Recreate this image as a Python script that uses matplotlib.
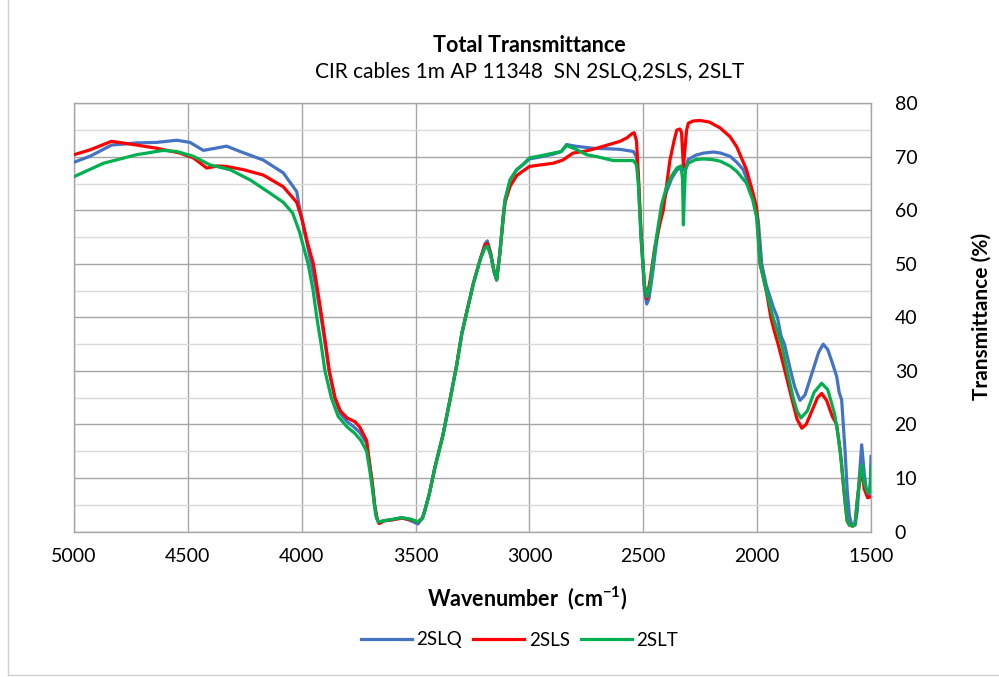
import matplotlib
matplotlib.use("Agg")
import matplotlib.pyplot as plt
from matplotlib.lines import Line2D
from matplotlib.ticker import MultipleLocator

plt.rcParams['font.family'] = ['Lato', 'DejaVu Sans']

# ---- data ----
wn_2slq = [5000, 4930, 4835, 4725, 4637, 4549, 4491, 4432, 4380, 4330, 4271, 4169, 4081, 4022,
           4012, 3990, 3958, 3935, 3915, 3897, 3880, 3855, 3830, 3800, 3770, 3745, 3715, 3700,
           3690, 3680, 3670, 3660, 3640, 3600, 3560, 3520, 3490, 3470, 3459, 3440, 3415, 3380,
           3349, 3320, 3297, 3270, 3246, 3215, 3195, 3185, 3170, 3155, 3144, 3130, 3115, 3107,
           3085, 3056, 3030, 3000, 2950, 2895, 2860, 2837, 2800, 2721, 2650, 2602, 2544, 2530,
           2522, 2510, 2495, 2485, 2475, 2460, 2442, 2420, 2398, 2375, 2353, 2335, 2325, 2315,
           2303, 2270, 2236, 2192, 2160, 2119, 2090, 2061, 2030, 2003, 1995, 1980, 1960, 1944,
           1930, 1911, 1895, 1880, 1853, 1835, 1812, 1790, 1760, 1730, 1710, 1690, 1670, 1651,
           1640, 1629, 1614, 1605, 1595, 1585, 1570, 1560, 1550, 1541, 1530, 1518, 1510, 1503,
           1500]
t_2slq = [69.0, 70.1, 72.2, 72.6, 72.7, 73.1, 72.7, 71.2, 71.6, 72.0, 71.0, 69.4, 67.0, 63.5,
          61.0, 56.5, 50.0, 45.0, 40.0, 35.0, 30.0, 25.0, 22.0, 20.5, 19.5, 18.5, 16.5, 12.0,
          9.0, 5.0, 2.5, 1.5, 2.0, 2.2, 2.6, 2.0, 1.4, 2.5, 4.0, 7.0, 12.0, 18.0,
          24.6, 31.0, 37.0, 42.0, 46.4, 51.0, 53.8, 54.3, 52.0, 48.5, 47.0, 52.0, 59.0, 62.0,
          65.7, 67.6, 68.5, 69.6, 70.0, 70.5, 71.0, 72.3, 72.0, 71.6, 71.5, 71.4, 71.0, 70.0,
          66.0, 55.0, 45.0, 42.5, 43.5, 48.0, 54.0, 60.0, 63.5, 66.0, 67.5, 68.0, 67.5, 68.0,
          69.5, 70.3, 70.7, 70.9, 70.7, 70.1, 69.0, 67.6, 64.0, 60.1, 58.0, 50.0, 46.0, 43.9,
          42.0, 40.0, 36.5, 35.0, 30.0, 27.0, 24.5, 25.5, 29.5, 33.5, 35.0, 34.0, 31.5, 29.0,
          26.0, 24.6, 15.0, 8.0, 3.0, 1.3, 1.2, 4.0, 11.0, 16.2, 11.0, 7.0, 6.5, 9.0,
          14.0]

wn_2sls = [5000, 4930, 4835, 4725, 4637, 4535, 4476, 4417, 4370, 4330, 4256, 4169, 4081, 4022,
           4000, 3975, 3949, 3930, 3912, 3895, 3879, 3854, 3830, 3800, 3766, 3745, 3715, 3700,
           3693, 3680, 3670, 3660, 3640, 3600, 3560, 3520, 3490, 3470, 3459, 3440, 3415, 3380,
           3349, 3320, 3297, 3270, 3246, 3215, 3195, 3185, 3170, 3155, 3144, 3130, 3115, 3107,
           3085, 3056, 3030, 3000, 2950, 2896, 2853, 2809, 2750, 2705, 2650, 2602, 2570, 2551,
           2540, 2530, 2522, 2510, 2495, 2485, 2470, 2450, 2430, 2412, 2383, 2365, 2353, 2339,
           2332, 2324, 2318, 2310, 2302, 2280, 2251, 2210, 2163, 2120, 2090, 2047, 2020, 2003,
           1987, 1960, 1940, 1925, 1908, 1878, 1849, 1825, 1804, 1785, 1760, 1735, 1717, 1695,
           1670, 1651, 1635, 1620, 1605, 1595, 1580, 1570, 1560, 1548, 1541, 1530, 1515, 1500]
t_2sls = [70.4, 71.3, 72.9, 72.2, 71.6, 70.7, 69.8, 67.9, 68.3, 68.2, 67.6, 66.6, 64.4, 61.5,
          58.5, 54.0, 50.0, 45.0, 40.0, 35.0, 30.0, 25.0, 22.5, 21.2, 20.5, 19.5, 17.0, 12.0,
          10.0, 5.0, 2.5, 1.5, 2.0, 2.2, 2.5, 2.2, 1.8, 2.5, 4.0, 7.0, 12.0, 18.0,
          24.6, 31.0, 37.0, 42.0, 46.4, 51.0, 53.5, 53.8, 51.8, 48.5, 47.0, 52.0, 58.5, 61.5,
          64.5, 66.5, 67.3, 68.2, 68.5, 68.8, 69.4, 70.7, 71.1, 71.6, 72.3, 72.9, 73.6, 74.3,
          74.5, 73.0, 67.0, 56.0, 46.0, 43.5, 47.0, 53.0, 57.0, 60.1, 69.4, 73.0, 75.0, 75.2,
          74.5, 68.2, 71.0, 75.0, 76.3, 76.7, 76.8, 76.5, 75.4, 73.8, 71.9, 67.6, 63.5, 60.7,
          50.0, 45.0, 40.0, 37.5, 35.0, 30.0, 25.0, 21.0, 19.3, 20.0, 22.5, 25.0, 25.8, 24.5,
          21.5, 20.0, 15.0, 8.0, 2.0, 1.2, 1.0, 1.5, 6.0, 10.0, 11.5, 8.0, 6.3, 6.5]

wn_2slt = [5000, 4871, 4725, 4608, 4549, 4476, 4403, 4315, 4227, 4139, 4081, 4040, 4010, 3972,
           3950, 3934, 3915, 3898, 3870, 3840, 3802, 3766, 3740, 3715, 3700, 3690, 3675, 3665,
           3640, 3600, 3560, 3520, 3490, 3470, 3459, 3440, 3415, 3380, 3349, 3320, 3297, 3270,
           3246, 3215, 3195, 3185, 3170, 3155, 3144, 3130, 3115, 3107, 3085, 3056, 3030, 3000,
           2950, 2895, 2860, 2837, 2800, 2749, 2700, 2632, 2580, 2544, 2530, 2522, 2510, 2495,
           2485, 2470, 2455, 2442, 2420, 2398, 2375, 2353, 2335, 2328, 2324, 2320, 2315, 2303,
           2270, 2236, 2200, 2163, 2120, 2090, 2047, 2020, 2003, 1987, 1960, 1930, 1893, 1868,
           1842, 1825, 1808, 1780, 1750, 1717, 1690, 1660, 1645, 1630, 1615, 1605, 1595, 1580,
           1570, 1560, 1550, 1541, 1530, 1515, 1505, 1500]
t_2slt = [66.3, 68.8, 70.4, 71.2, 71.0, 70.1, 68.5, 67.6, 65.7, 63.2, 61.5, 59.5, 56.0, 50.0,
          45.0, 40.0, 35.0, 30.0, 25.0, 21.5, 19.6, 18.3, 17.0, 15.0, 11.0, 8.0, 3.0, 1.8,
          2.0, 2.3, 2.6, 2.3, 1.8, 2.5, 4.0, 7.0, 12.0, 18.0, 24.6, 31.0, 37.0, 42.0,
          46.4, 51.0, 53.0, 53.3, 51.5, 48.5, 47.0, 52.0, 59.0, 62.0, 65.7, 67.6, 68.5, 69.8,
          70.2, 70.7, 71.0, 72.1, 71.5, 70.4, 70.0, 69.3, 69.3, 69.3, 68.5, 65.0, 55.0, 46.0,
          43.9, 46.0, 51.0, 55.1, 61.0, 64.4, 66.5, 67.9, 68.3, 66.0, 57.3, 63.0, 67.5, 68.8,
          69.5, 69.6, 69.5, 69.2, 68.3, 67.3, 65.1, 62.0, 58.8, 50.0, 45.0, 40.0, 35.0, 30.0,
          25.0, 22.5, 21.2, 22.5, 26.0, 27.7, 26.5, 22.0, 18.0, 13.0, 6.0, 2.0, 1.2, 1.0,
          1.5, 6.0, 10.0, 12.4, 9.0, 7.2, 7.5, 12.0]

series_names = ["2SLQ", "2SLS", "2SLT"]
series_colors = ["#4472C4", "#FF0000", "#00B050"]
x_ticks = [5000, 4500, 4000, 3500, 3000, 2500, 2000, 1500]
y_ticks = [0, 10, 20, 30, 40, 50, 60, 70, 80]

title = "Total Transmittance"
subtitle = "CIR cables 1m AP 11348  SN 2SLQ,2SLS, 2SLT"
x_label = "Wavenumber  (cm$^{\\mathregular{-1}}$)"
y_label = "Transmittance (%)"

# ---- figure ----
fig = plt.figure(figsize=(9.99, 6.77), dpi=100)
ax = fig.add_axes([0.0741, 0.2149, 0.7978, 0.6325])

data = [(wn_2slq, t_2slq), (wn_2sls, t_2sls), (wn_2slt, t_2slt)]
for (wn, t), name, col in zip(data, series_names, series_colors):
    ax.plot(wn, t, color=col, lw=2.3, label=name, solid_joinstyle='round', zorder=3)

ax.set_xlim(5000, 1500)
ax.set_ylim(0, 80)
ax.set_xticks(x_ticks)
ax.set_yticks(y_ticks)
ax.yaxis.set_minor_locator(MultipleLocator(5))
ax.yaxis.tick_right()
ax.yaxis.set_label_position("right")

ax.grid(axis='x', which='major', color='#a6a6a6', lw=1.0, zorder=0)
ax.grid(axis='y', which='major', color='#a6a6a6', lw=1.0, zorder=0)
ax.grid(axis='y', which='minor', color='#d9d9d9', lw=1.0, zorder=0)
for s in ax.spines.values():
    s.set_color('#a6a6a6')
    s.set_linewidth(1.0)

ax.tick_params(axis='both', which='both', length=0, labelsize=14, colors='#000000')
ax.tick_params(axis='x', pad=12)
ax.tick_params(axis='y', pad=17)

ax.set_xlabel(x_label, fontsize=15.5, fontweight='bold')
ax.xaxis.set_label_coords((527 - 74) / 797, (531.5 - 598) / 428.2)
ax.xaxis.label.set_va('center')
ax.set_ylabel(y_label, fontsize=15, fontweight='bold')
ax.yaxis.set_label_coords((982 - 74) / 797, (531.5 - 316) / 428.2)
ax.yaxis.label.set_va('center')

fig.text(0.53, 1 - 45 / 677, title, ha='center', va='center', fontsize=15.5, fontweight='bold')
fig.text(0.53, 1 - 72 / 677, subtitle, ha='center', va='center', fontsize=15)

handles = [Line2D([0], [0], color=c, lw=2.3) for c in series_colors]
fig.legend(handles, series_names, loc='center', bbox_to_anchor=(0.52, 1 - 640 / 677),
           ncol=3, frameon=False, fontsize=13.5, handlelength=2.7, handletextpad=0.25,
           columnspacing=0.6)

# chart area border
fig.add_artist(Line2D([8 / 999, 8 / 999], [2 / 677, 1.0], transform=fig.transFigure,
                      color='#d0d0d0', lw=1))
fig.add_artist(Line2D([8 / 999, 1.0], [2 / 677, 2 / 677], transform=fig.transFigure,
                      color='#d0d0d0', lw=1))

fig.savefig("out.png", dpi=100)
